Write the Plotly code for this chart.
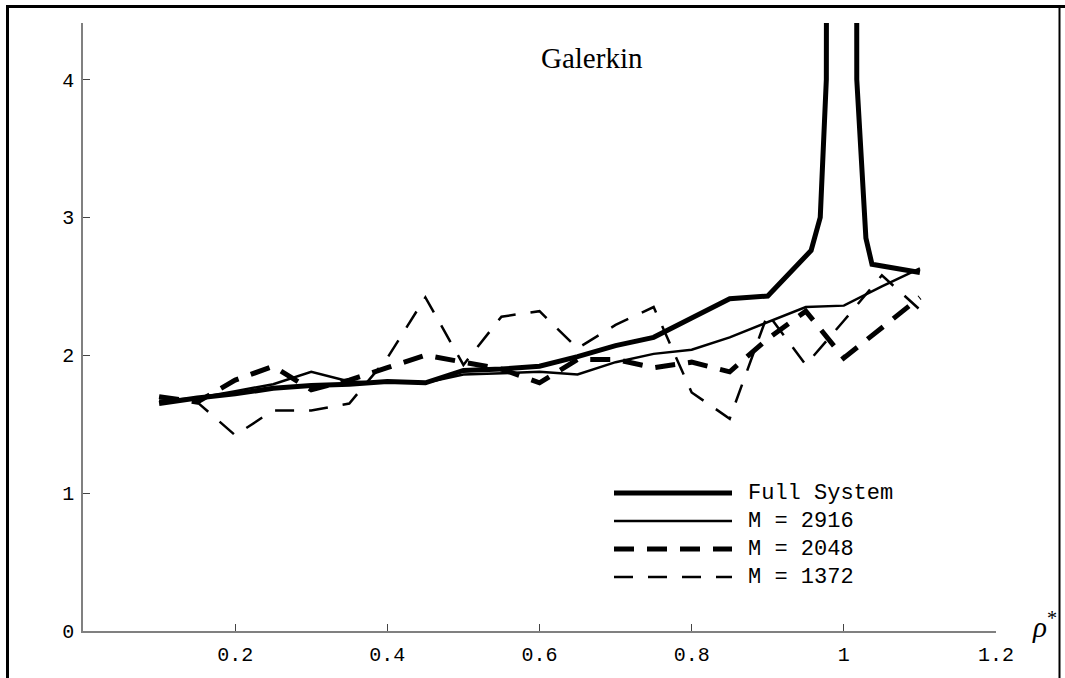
import plotly.graph_objects as go

# ---- data -------------------------------------------------------------
rho_full = [0.1, 0.15, 0.2, 0.25, 0.3, 0.35, 0.4, 0.45, 0.5, 0.55, 0.6, 0.65,
            0.7, 0.75, 0.8, 0.85, 0.9, 0.957, 0.969, 0.977, 0.979,
            1.016, 1.017, 1.026, 1.029, 1.037, 1.1]
full_system = [1.65, 1.69, 1.72, 1.76, 1.78, 1.79, 1.81, 1.80, 1.89, 1.90, 1.92, 1.99,
               2.07, 2.13, 2.27, 2.41, 2.43, 2.76, 3.0, 4.0, 12.0,
               12.0, 4.0, 3.1, 2.85, 2.66, 2.60]

rho = [0.1, 0.15, 0.2, 0.25, 0.3, 0.35, 0.4, 0.45, 0.5, 0.55, 0.6, 0.65,
       0.7, 0.75, 0.8, 0.85, 0.9, 0.95, 1.0, 1.05, 1.1]
m2916 = [1.67, 1.69, 1.74, 1.79, 1.88, 1.81, 1.80, 1.80, 1.86, 1.87, 1.88, 1.86,
         1.95, 2.01, 2.04, 2.13, 2.24, 2.35, 2.36, 2.50, 2.63]
m2048 = [1.70, 1.66, 1.82, 1.92, 1.75, 1.82, 1.91, 2.00, 1.95, 1.90, 1.80, 1.97,
         1.97, 1.91, 1.95, 1.88, 2.12, 2.32, 1.98, 2.20, 2.42]
m1372 = [1.69, 1.66, 1.42, 1.60, 1.60, 1.65, 1.98, 2.42, 1.93, 2.28, 2.32, 2.05,
         2.22, 2.35, 1.73, 1.54, 2.30, 1.93, 2.25, 2.58, 2.33]

x_ticks = [0.2, 0.4, 0.6, 0.8, 1.0, 1.2]
x_tick_text = ["0.2", "0.4", "0.6", "0.8", "1", "1.2"]
y_ticks = [0, 1, 2, 3, 4]
y_tick_text = ["0", "1", "2", "3", "4"]

legend_names = ["Full System", "M = 2916", "M = 2048", "M = 1372"]

# ---- styles -------------------------------------------------------------
styles = [
    dict(width=5, dash="solid"),
    dict(width=2.5, dash="solid"),
    dict(width=5, dash="20px,13px"),
    dict(width=2.5, dash="19px,15px"),
]

series = [
    (rho_full, full_system),
    (rho, m2916),
    (rho, m2048),
    (rho, m1372),
]

fig = go.Figure()
for (xs, ys), st, name in zip(series, styles, legend_names):
    fig.add_trace(go.Scatter(
        x=xs, y=ys, mode="lines", name=name, showlegend=False,
        line=dict(color="black", width=st["width"], dash=st["dash"]),
    ))

# ---- geometry helpers (pixel -> paper) -----------------------------------
W, H = 1065, 678
ML, MR, MT, MB = 83, 69, 23, 47
PW, PH = W - ML - MR, H - MT - MB


def px(x):
    return (x - ML) / PW


def py(y):
    return (H - MB - y) / PH


mono = "Liberation Mono, Courier New, monospace"
serif = "Liberation Serif, Times New Roman, serif"

shapes = []
annotations = []

# legend samples drawn as line shapes with matching text
legend_rows = [493, 521, 549, 577]
for st, name, yrow in zip(styles, legend_names, legend_rows):
    shapes.append(dict(
        type="line", xref="paper", yref="paper",
        x0=px(614), x1=px(732), y0=py(yrow), y1=py(yrow),
        line=dict(color="black", width=st["width"], dash=st["dash"]),
    ))
    annotations.append(dict(
        xref="paper", yref="paper", x=px(746), y=py(yrow),
        xanchor="left", yanchor="middle", showarrow=False,
        text=name, font=dict(family=mono, size=22, color="black"),
    ))

# outer frame
shapes += [
    dict(type="line", xref="paper", yref="paper",
         x0=px(7.5), x1=px(7.5), y0=py(5), y1=py(690),
         line=dict(color="black", width=3)),
    dict(type="line", xref="paper", yref="paper",
         x0=px(6), x1=px(1070), y0=py(6.5), y1=py(6.5),
         line=dict(color="black", width=3)),
    dict(type="line", xref="paper", yref="paper",
         x0=px(1059.5), x1=px(1059.5), y0=py(5), y1=py(690),
         line=dict(color="black", width=2)),
]

# panel title and axis label
annotations.append(dict(
    xref="paper", yref="paper", x=px(592), y=py(58),
    xanchor="center", yanchor="middle", showarrow=False,
    text="Galerkin", font=dict(family=serif, size=29, color="black"),
))
annotations.append(dict(
    xref="paper", yref="paper", x=px(1030), y=py(625),
    xanchor="left", yanchor="middle", showarrow=False,
    text="<i>ρ</i><sup>*</sup>", font=dict(family=serif, size=29, color="black"),
))

axis_common = dict(
    showgrid=False, zeroline=False, showline=True,
    linecolor="#808080", linewidth=1.5,
    ticks="inside", ticklen=7, tickwidth=1, tickcolor="#444",
    tickfont=dict(family=mono, size=20, color="black"),
)

fig.update_layout(
    width=W, height=H,
    margin=dict(l=ML, r=MR, t=MT, b=MB, pad=0),
    paper_bgcolor="white", plot_bgcolor="white",
    xaxis=dict(range=[0, 1.2], tickvals=x_ticks, ticktext=x_tick_text,
               ticklabelstandoff=4, **axis_common),
    yaxis=dict(range=[0, 4.41], tickvals=y_ticks, ticktext=y_tick_text,
               ticklabelstandoff=3, **axis_common),
    shapes=shapes,
    annotations=annotations,
    showlegend=False,
)

fig.write_html("out.html")
